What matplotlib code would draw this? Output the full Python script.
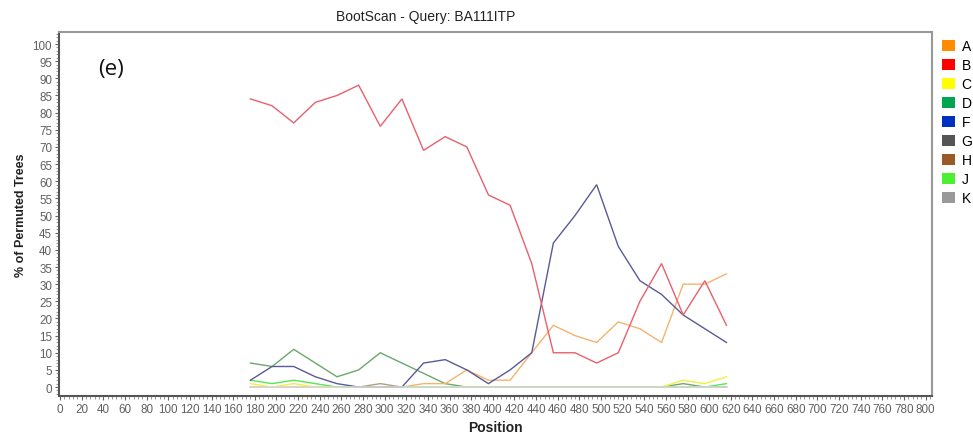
import matplotlib
matplotlib.use("Agg")
import matplotlib.pyplot as plt
from matplotlib.patches import Patch
from matplotlib.ticker import MultipleLocator
import numpy as np

plt.rcParams['font.family'] = ['Liberation Sans', 'DejaVu Sans']

# Window midpoints along the alignment
positions = [176, 196, 216, 236, 256, 276, 296, 316, 336, 356, 376, 396,
             416, 436, 456, 476, 496, 516, 536, 556, 576, 596, 616]

# Bootstrap support (% of permuted trees) per reference subtype
subtype_A = [0, 0, 0, 0, 0, 0, 0, 0, 1, 1, 5, 2, 2, 10, 18, 15, 13, 19, 17, 13, 30, 30, 33]
subtype_B = [84, 82, 77, 83, 85, 88, 76, 84, 69, 73, 70, 56, 53, 36, 10, 10, 7, 10, 25, 36, 21, 31, 18]
subtype_C = [1, 0, 1, 0, 0, 0, 0, 0, 0, 0, 0, 0, 0, 0, 0, 0, 0, 0, 0, 0, 2, 1, 3]
subtype_D = [7, 6, 11, 7, 3, 5, 10, 7, 4, 1, 0, 0, 0, 0, 0, 0, 0, 0, 0, 0, 1, 0, 0]
subtype_G = [2, 6, 6, 3, 1, 0, 0, 0, 7, 8, 5, 1, 5, 10, 42, 50, 59, 41, 31, 27, 21, 17, 13]
subtype_H = [0, 0, 0, 0, 0, 0, 1, 0, 0, 0, 0, 0, 0, 0, 0, 0, 0, 0, 0, 0, 0, 0, 0]
subtype_J = [2, 1, 2, 1, 0, 0, 0, 0, 0, 0, 0, 0, 0, 0, 0, 0, 0, 0, 0, 0, 0, 0, 1]
subtype_K = [0] * len(positions)

legend_labels = ['A', 'B', 'C', 'D', 'F', 'G', 'H', 'J', 'K']
legend_colors = ['#ff8c00', '#ff0000', '#ffff00', '#00a550', '#0030c0',
                 '#555555', '#9a5a28', '#4cf030', '#999999']

x_ticks = list(range(0, 801, 20))
y_ticks = list(range(0, 101, 5))

fig = plt.figure(figsize=(9.73, 4.39), dpi=100)
ax = fig.add_axes([0.0606, 0.0957, 0.8973, 0.8291])

line_kw = dict(lw=1.0, solid_joinstyle='miter')
ax.plot(positions, subtype_D, color='#6aa86a', **line_kw)
ax.plot(positions, subtype_H, color='#b0a080', **line_kw)
ax.plot(positions, subtype_A, color='#f2b46e', **line_kw)
ax.plot(positions, subtype_C, color='#f2f040', **line_kw)
ax.plot(positions, subtype_J, color='#55e855', **line_kw)
ax.plot(positions, subtype_G, color='#5a5a98', **line_kw)
ax.plot(positions, subtype_B, color='#e8606c', **line_kw)
ax.plot(positions, subtype_K, color='#d8d8d8', lw=1.2, zorder=3)

ax.set_xlim(-1, 806)
ax.set_ylim(-2.6, 103.5)
ax.set_xticks(x_ticks)
ax.set_yticks(y_ticks)
ax.xaxis.set_minor_locator(MultipleLocator(4))
ax.yaxis.set_minor_locator(MultipleLocator(1))
ax.tick_params(axis='both', which='major', labelsize=8.4, labelcolor='#606060',
               color='#666666', length=3, width=0.8, pad=2)
ax.tick_params(axis='both', which='minor', color='#888888', length=2, width=0.6)

for side in ('top', 'right'):
    ax.spines[side].set_color('#999999')
    ax.spines[side].set_linewidth(1.5)
for side in ('left', 'bottom'):
    ax.spines[side].set_color('#555555')
    ax.spines[side].set_linewidth(1.5)

ax.set_xlabel('Position', fontsize=10, fontweight='bold', color='#222222', labelpad=4)
ax.set_ylabel('% of Permuted Trees', fontsize=9, fontweight='bold', color='#222222', labelpad=4)

fig.text(0.438, 0.962, 'BootScan - Query: BA111ITP', ha='center', va='center',
         fontsize=10, color='#222222')
ax.text(0.045, 0.90, '(e)', transform=ax.transAxes, fontsize=16,
        family=['Open Sans', 'DejaVu Sans'], ha='left', va='center', color='#111111')

handles = [Patch(facecolor=c, edgecolor='none') for c in legend_colors]
fig.legend(handles, legend_labels, loc='upper left', bbox_to_anchor=(0.9625, 0.921),
           frameon=False, fontsize=10, handlelength=0.9, handleheight=0.9,
           handletextpad=0.5, labelspacing=0.36, borderaxespad=0)

fig.savefig('out.png', dpi=100)
